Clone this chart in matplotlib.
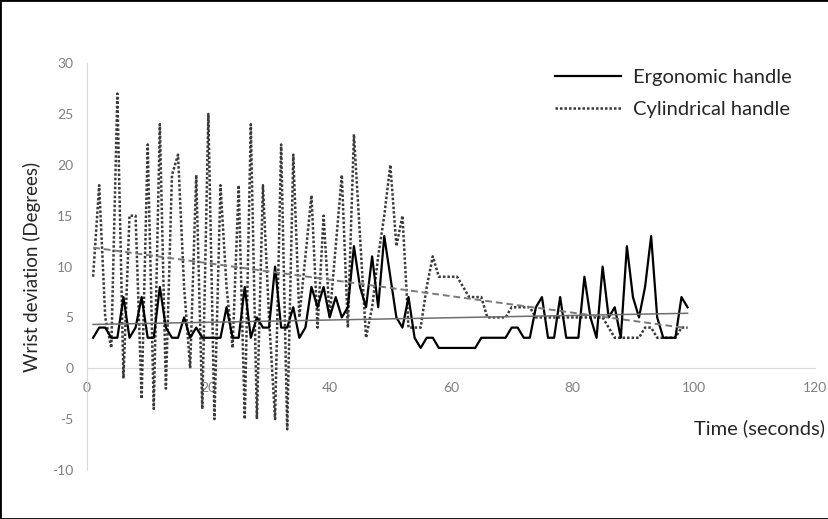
import matplotlib
matplotlib.use("Agg")
import matplotlib.pyplot as plt
from matplotlib.patches import Rectangle
import numpy as np

plt.rcParams['font.family'] = ['Lato', 'DejaVu Sans']
plt.rcParams['axes.unicode_minus'] = False

# time in seconds (one reading per second)
seconds = list(range(1, 100))

ergonomic = [3, 4, 4, 3, 3, 7, 3, 4, 7, 3, 3, 8, 4, 3, 3, 5, 3, 4, 3, 3,
             3, 3, 6, 3, 3, 8, 3, 5, 4, 4, 10, 4, 4, 6, 3, 4, 8, 6, 8, 5,
             7, 5, 6, 12, 8, 6, 11, 6, 13, 9, 5, 4, 7, 3, 2, 3, 3, 2, 2, 2,
             2, 2, 2, 2, 3, 3, 3, 3, 3, 4, 4, 3, 3, 6, 7, 3, 3, 7, 3, 3,
             3, 9, 5, 3, 10, 5, 6, 3, 12, 7, 5, 8, 13, 5, 3, 3, 3, 7, 6]

cylindrical = [9, 18, 5, 2, 27, -1, 15, 15, -3, 22, -4, 24, -2, 19, 21, 8, 0, 19, -4, 25,
               -5, 18, 8, 2, 18, -5, 24, -5, 18, 5, -5, 22, -6, 21, 5, 11, 17, 4, 15, 5,
               12, 19, 4, 23, 13, 3, 6, 11, 15, 20, 12, 15, 4, 4, 4, 8, 11, 9, 9, 9,
               9, 8, 7, 7, 7, 5, 5, 5, 5, 6, 6, 6, 6, 5, 5, 5, 5, 5, 5, 5,
               5, 5, 5, 5, 5, 4, 3, 3, 3, 3, 3, 4, 4, 3, 3, 3, 3, 4, 4]

x_ticks = [0, 20, 40, 60, 80, 100, 120]
y_ticks = [-10, -5, 0, 5, 10, 15, 20, 25, 30]

fig = plt.figure(figsize=(8.29, 5.19), dpi=100)
ax = fig.add_axes([0.105, 0.0944, 0.878, 0.784])

l1, = ax.plot(seconds, ergonomic, color='black', lw=1.6, label='Ergonomic handle', zorder=4)
l2, = ax.plot(seconds, cylindrical, color='#3a3a3a', lw=1.8, linestyle=(0, (1, 0.8)),
              label='Cylindrical handle', zorder=3)

# linear trendlines like excel
t = np.array(seconds)
p1 = np.polyfit(t, ergonomic, 1)
p2 = np.polyfit(t, cylindrical, 1)
ax.plot(t, np.polyval(p1, t), color='#6e6e6e', lw=1.1, zorder=5)
ax.plot(t, np.polyval(p2, t), color='#7a7a7a', lw=1.4, linestyle=(0, (3.5, 2)), zorder=5)

ax.set_xlim(0, 120)
ax.set_ylim(-10, 30)
ax.set_xticks(x_ticks)
ax.set_yticks(y_ticks)

for s in ['top', 'right']:
    ax.spines[s].set_visible(False)
ax.spines['bottom'].set_position(('data', 0))
ax.spines['bottom'].set_color('#d9d9d9')
ax.spines['left'].set_color('#d9d9d9')
ax.tick_params(axis='both', length=0, colors='#808080', labelsize=10)
ax.tick_params(axis='x', pad=10)
ax.tick_params(axis='y', pad=10)

ax.set_ylabel('Wrist deviation (Degrees)', fontsize=13.5, color='#262626', labelpad=8)
fig.text(825 / 829, 1 - 428 / 519, 'Time (seconds)', fontsize=14.5, color='#262626',
         ha='right', va='center')

ax.legend(handles=[l1, l2], loc='upper left', bbox_to_anchor=(555 / 829, 1 - 69 / 519),
          bbox_transform=fig.transFigure, frameon=False, fontsize=14.5,
          handlelength=3.3, handletextpad=0.55, labelspacing=0.75,
          borderpad=0, borderaxespad=0, labelcolor='#262626')

fig.patches.append(Rectangle((0, 0), 1, 1, transform=fig.transFigure, fill=False,
                             edgecolor='black', lw=2))

fig.savefig('out.png', dpi=100)
